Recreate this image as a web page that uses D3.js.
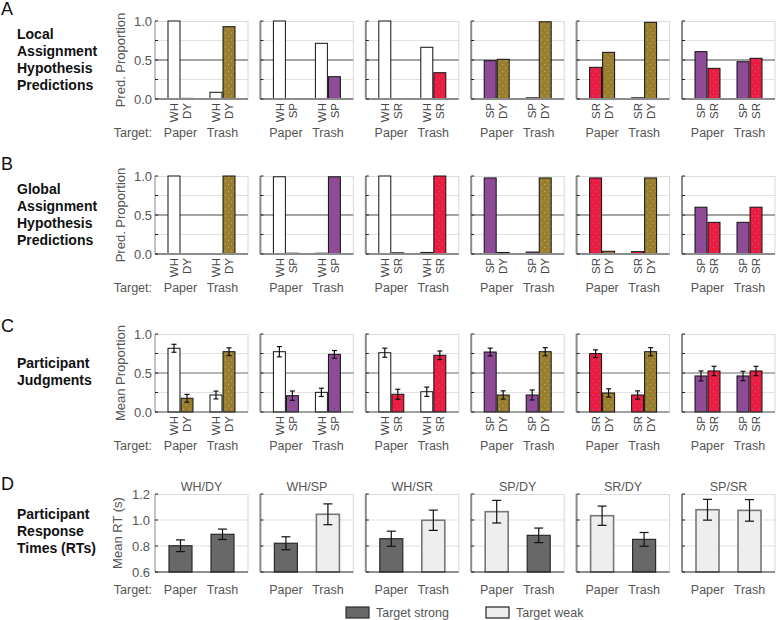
<!DOCTYPE html>
<html><head><meta charset="utf-8">
<script src="https://cdn.jsdelivr.net/npm/d3@7"></script>
<style>
body{margin:0;background:#fff;}
text{font-family:"Liberation Sans",Arial,Helvetica,sans-serif;}
</style></head>
<body><div id="chart"></div>
<script>
// ---------- DATA ----------
const columns = ["WH/DY","WH/SP","WH/SR","SP/DY","SR/DY","SP/SR"];
const pairs = [["WH","DY"],["WH","SP"],["WH","SR"],["SP","DY"],["SR","DY"],["SP","SR"]];
const targets = ["Paper","Trash"];
// per column: [[Paper first, Paper second],[Trash first, Trash second]]
const localPred = [
  [[1.0,0.008],[0.086,0.927]],
  [[1.0,0],[0.714,0.286]],
  [[1.0,0],[0.663,0.337]],
  [[0.491,0.509],[0.015,0.99]],
  [[0.406,0.598],[0.015,0.983]],
  [[0.607,0.393],[0.478,0.522]]
];
const globalPred = [
  [[1.0,0],[0,1.0]],
  [[0.99,0.01],[0.01,0.99]],
  [[1.0,0.015],[0.02,1.0]],
  [[0.975,0.02],[0.025,0.975]],
  [[0.975,0.035],[0.03,0.975]],
  [[0.6,0.406],[0.406,0.6]]
];
const judgMean = [
  [[0.817,0.176],[0.218,0.773]],
  [[0.773,0.209],[0.252,0.739]],
  [[0.76,0.227],[0.26,0.727]],
  [[0.769,0.218],[0.218,0.773]],
  [[0.748,0.244],[0.218,0.773]],
  [[0.462,0.526],[0.462,0.526]]
];
const judgErr = [
  [[0.051,0.05],[0.05,0.05]],
  [[0.066,0.06],[0.053,0.049]],
  [[0.058,0.064],[0.06,0.055]],
  [[0.05,0.053],[0.064,0.053]],
  [[0.049,0.053],[0.053,0.053]],
  [[0.064,0.06],[0.06,0.06]]
];
const rtMean = [[0.802,0.89],[0.821,1.044],[0.856,0.998],[1.064,0.882],[1.033,0.851],[1.079,1.074]];
const rtErr  = [[0.045,0.04],[0.05,0.08],[0.058,0.078],[0.087,0.056],[0.074,0.053],[0.08,0.083]];
const rtStrong = [[true,true],[true,false],[true,false],[false,true],[false,true],[false,false]];
const propTicks = [0,0.25,0.5,0.75,1];
const propTickLabels = ["0.0","","0.5","","1.0"];
const rtTicks = [0.6,0.8,1.0,1.2];
const rtTickLabels = ["0.6","0.8","1.0","1.2"];
const rows = [
  {key:"A", lines:["Local","Assignment","Hypothesis","Predictions"], ytitle:"Pred. Proportion", data:localPred},
  {key:"B", lines:["Global","Assignment","Hypothesis","Predictions"], ytitle:"Pred. Proportion", data:globalPred},
  {key:"C", lines:["Participant","Judgments"], ytitle:"Mean Proportion", data:judgMean, err:judgErr},
  {key:"D", lines:["Participant","Response","Times (RTs)"], ytitle:"Mean RT (s)"}
];
const legendItems = ["Target strong","Target weak"];

// ---------- LAYOUT / STYLE ----------
const W = 93, H = 78;
const rowTop = [21,176,334,494];
const letterY = [15,170,332,490];
const labelY = [[39,56,73,90],[194,211,228,245],[368,385],[519,536,553]];
const catFill = {WH:"#ffffff", DY:"url(#patDY)", SP:"url(#patSP)", SR:"url(#patSR)"};

const svg = d3.select("#chart").append("svg").attr("width",778).attr("height",620)
  .style("background","#fff");
const defs = svg.append("defs");
function pattern(id, bg, dot, w, h, dots){
  const p = defs.append("pattern").attr("id",id).attr("patternUnits","userSpaceOnUse")
    .attr("width",w).attr("height",h);
  p.append("rect").attr("width",w).attr("height",h).attr("fill",bg);
  dots.forEach(d=>p.append("rect").attr("x",d[0]).attr("y",d[1]).attr("width",1).attr("height",1).attr("fill",dot));
}
pattern("patDY","#9a7e2b","#aeb0bc",6,7,[[1,1],[4,4.5]]);
pattern("patSR","#ee1b3c","#7d70d8",6,7,[[1,1],[4,4.5]]);
pattern("patSP","#8c4c98","#e8203e",8,10,[[4,3]]);

const colX = d3.scalePoint().domain(d3.range(6)).range([155,682]);
const xOuter = d3.scalePoint().domain(targets).range([0,W]).padding(0.607);
const xInner = d3.scaleBand().domain([0,1]).range([-12.5,12.5]).paddingInner(0.08);
const yProp = d3.scaleLinear().domain([0,1]).range([H,0]);
const yRT = d3.scaleLinear().domain([0.6,1.2]).range([H,0]);

const txt = (g, x, y, s, opt={}) => g.append("text").attr("x",x).attr("y",y).text(s)
  .attr("font-size",opt.size||12.5).attr("fill",opt.fill||"#555")
  .attr("text-anchor",opt.anchor||"start").attr("font-weight",opt.weight||"normal");

rows.forEach((row, ri) => {
  txt(svg, 1, letterY[ri], row.key, {size:18, fill:"#111"});
  row.lines.forEach((l,li)=>txt(svg, 17, labelY[ri][li], l, {size:14, fill:"#111", weight:"bold"}));

  const isRT = row.key === "D";
  const y = isRT ? yRT : yProp;
  const ticks = isRT ? rtTicks : propTicks;
  const tickLabels = isRT ? rtTickLabels : propTickLabels;

  columns.forEach((colName, ci) => {
    const g = svg.append("g").attr("transform",`translate(${colX(ci)},${rowTop[ri]})`);
    const grid = isRT ? [0.8,1.0] : [0.25,0.75];
    grid.forEach(v=>g.append("line").attr("x1",0).attr("x2",W).attr("y1",y(v)).attr("y2",y(v))
      .attr("stroke","#e2e2e2").attr("stroke-width",1.2));
    g.append("line").attr("x1",0).attr("x2",W).attr("y1",0.5).attr("y2",0.5).attr("stroke","#dcdcdc");
    g.append("line").attr("x1",W).attr("x2",W).attr("y1",0).attr("y2",H).attr("stroke","#d8d8d8");
    if(!isRT){
      const dark = row.key==="C";
      g.append("line").attr("x1",0).attr("x2",W).attr("y1",y(0.5)).attr("y2",y(0.5))
        .attr("stroke",dark?"#6a6a6a":"#a3a3a3").attr("stroke-width",dark?1:2);
    }
    if(!isRT){
      targets.forEach((t,ti)=>{
        [0,1].forEach(k=>{
          const v = row.data[ci][ti][k];
          const cat = pairs[ci][k];
          const bx = xOuter(t)+xInner(k);
          if(v>0){
            g.append("rect").attr("x",bx).attr("y",y(v)).attr("width",xInner.bandwidth())
              .attr("height",y(0)-y(v)).attr("fill",catFill[cat])
              .attr("stroke","#111").attr("stroke-width",1);
          }
          if(row.err){
            const e = row.err[ci][ti][k];
            const cx = bx + xInner.bandwidth()/2;
            const eg = g.append("g").attr("stroke","#111").attr("stroke-width",1.2);
            eg.append("line").attr("x1",cx).attr("x2",cx).attr("y1",y(v-e)).attr("y2",y(v+e));
            eg.append("line").attr("x1",cx-2.5).attr("x2",cx+2.5).attr("y1",y(v-e)).attr("y2",y(v-e));
            eg.append("line").attr("x1",cx-2.5).attr("x2",cx+2.5).attr("y1",y(v+e)).attr("y2",y(v+e));
          }
          const lx = bx + xInner.bandwidth()/2;
          g.append("text").attr("transform",`translate(${lx},${H+4}) rotate(-90)`)
            .attr("dy","0.36em").attr("text-anchor","end").attr("font-size",11.5)
            .attr("fill","#444").text(cat);
        });
        txt(g, xOuter(t), H+38, t, {anchor:"middle"});
      });
      if(ci===0) txt(g, -3, H+38, "Target:", {anchor:"end"});
    } else {
      const bw = 23;
      targets.forEach((t,ti)=>{
        const v = rtMean[ci][ti], e = rtErr[ci][ti], strong = rtStrong[ci][ti];
        const cx = xOuter(t);
        g.append("rect").attr("x",cx-bw/2).attr("y",y(v)).attr("width",bw).attr("height",y(0.6)-y(v))
          .attr("fill",strong?"#686868":"#eeeeee").attr("stroke",strong?"#2a2a2a":"#777")
          .attr("stroke-width",strong?1.2:1.6);
        const eg = g.append("g").attr("stroke","#111").attr("stroke-width",1.2);
        eg.append("line").attr("x1",cx).attr("x2",cx).attr("y1",y(v-e)).attr("y2",y(v+e));
        eg.append("line").attr("x1",cx-4.5).attr("x2",cx+4.5).attr("y1",y(v-e)).attr("y2",y(v-e));
        eg.append("line").attr("x1",cx-4.5).attr("x2",cx+4.5).attr("y1",y(v+e)).attr("y2",y(v+e));
        txt(g, cx, H+22, t, {anchor:"middle"});
      });
      txt(g, W/2, -3, colName, {anchor:"middle"});
      if(ci===0) txt(g, -3, H+22, "Target:", {anchor:"end"});
    }
    const bottomStroke = isRT ? "#222" : (row.key==="C" ? "#444" : "#8c8c8c");
    const bottomW = (isRT || row.key==="C") ? 1 : 2;
    g.append("line").attr("x1",0).attr("x2",W).attr("y1",H).attr("y2",H)
      .attr("stroke",bottomStroke).attr("stroke-width",bottomW);
    g.append("line").attr("x1",0).attr("x2",0).attr("y1",0).attr("y2",H)
      .attr("stroke",ci===0?"#9a9a9a":"#8a8a8a").attr("stroke-width",ci===0?1.2:2);
    ticks.forEach(v=>g.append("line").attr("x1",0).attr("x2",3).attr("y1",y(v)).attr("y2",y(v))
      .attr("stroke","#222").attr("stroke-width",1));
    if(ci===0){
      ticks.forEach((v,i)=>{ if(tickLabels[i]) txt(g, isRT?-5:-3, y(v)+4.5, tickLabels[i], {anchor:"end", size:13}); });
      g.append("text").attr("transform",`translate(${isRT?-33:-30},${H/2}) rotate(-90)`)
        .attr("text-anchor","middle").attr("font-size",13).attr("fill","#555").text(row.ytitle);
    }
  });
});

const lg = svg.append("g");
const legX = [346,486];
legendItems.forEach((s,i)=>{
  lg.append("rect").attr("x",legX[i]).attr("y",607).attr("width",23).attr("height",11)
    .attr("fill",i===0?"#686868":"#eeeeee").attr("stroke",i===0?"#2a2a2a":"#222").attr("stroke-width",1.2);
  txt(lg, legX[i]+30, 617, s, {size:12.5});
});
</script></body></html>
